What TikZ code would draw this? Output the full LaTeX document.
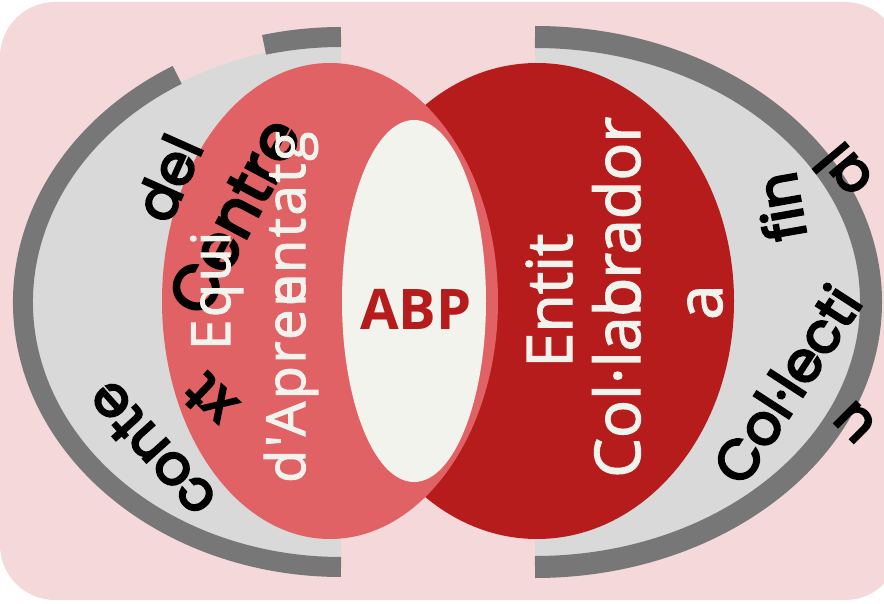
\documentclass[tikz,border=0pt]{standalone}
\usepackage{fontspec}
\newfontfamily\osans[Ligatures=TeXOff]{Open Sans}
\newfontfamily\osansb[Ligatures=TeXOff,FakeBold=2]{Open Sans}
\newfontfamily\osansbl[Ligatures=TeXOff,FakeBold=2,LetterSpace=5]{Open Sans}
\newfontfamily\pop[FakeBold=4]{Poppins}
\definecolor{bgpink}{HTML}{F5D9DA}
\definecolor{lgray}{HTML}{D9D9D9}
\definecolor{dgray}{HTML}{777777}
\definecolor{pinkel}{HTML}{E06265}
\definecolor{dred}{HTML}{B71C1C}
\definecolor{cream}{HTML}{F3F3EE}
\begin{document}
\begin{tikzpicture}[x=1pt,y=-1pt,
  blk/.style={text=black, font=\pop\fontsize{56}{60}\selectfont, inner sep=0pt, anchor=center},
  crm/.style={text=cream, inner sep=0pt, rotate=90, anchor=base west},
  crmL/.style={crm, font=\osansbl\fontsize{54}{60}\selectfont},
  crmR/.style={crm, font=\osansb\fontsize{63}{70}\selectfont}]
\useasboundingbox (0,0) rectangle (884,604);
\clip (0,0) rectangle (884,604);
% background
\fill[bgpink, rounded corners=55pt] (0,2) rectangle (900,600);
% left gray half ring
\begin{scope}
  \clip (0,0) rectangle (341,604);
  \fill[lgray] (341,302) ellipse[x radius=308pt, y radius=257pt];
\end{scope}
\draw[dgray, line width=20pt] (341,302) ++(90:318pt and 265pt)
  arc[start angle=90, end angle=104, x radius=318pt, y radius=265pt];
\draw[dgray, line width=20pt] (341,302) ++(121:318pt and 265pt)
  arc[start angle=121, end angle=270, x radius=318pt, y radius=265pt];
% right gray half ring
\begin{scope}
  \clip (535,0) rectangle (884,604);
  \fill[lgray] (535,302) ellipse[x radius=325pt, y radius=256pt];
\end{scope}
\draw[dgray, line width=22pt] (535,302) ++(-90:336pt and 265pt)
  arc[start angle=-90, end angle=90, x radius=336pt, y radius=265pt];
% ellipses
\fill[dred] (537,301) ellipse[x radius=197pt, y radius=238pt];
\fill[pinkel] (330,301) ellipse[x radius=168pt, y radius=238pt];
\fill[cream] (414,301) ellipse[x radius=72pt, y radius=181pt];
% black path texts
\node[blk, rotate=66] (del) at (168,178) {del};
\node[blk, rotate=62, font=\pop\fontsize{62}{70}\selectfont] (centre) at (234,216) {Centre};
\node[blk, rotate=132] (conte) at (151,450) {conte};
\node[blk, rotate=136] (xt) at (210,400) {xt};
\node[blk, rotate=57] (collecti) at (786,384) {Col·lecti};
\node[blk, rotate=135] (u) at (855,422) {u};
\node[blk, rotate=100] (fin) at (780,207) {fin};
\node[blk, rotate=130] (al) at (843,172) {al};
% cream texts
\node[crmL] (equi) at (230,350) {Equi};
\node[crmL] (daprenentatg) at (305,483) {d'Apren\kern-0.6em entatg};
\node[crmR] (entit) at (572,368) {Entit};
\node[crmR] (collab) at (640,478) {Col·lab\kern-0.62em orador};
\node[crmR] (a) at (722,320) {a};
% ABP
\node[text=dred, inner sep=0pt, anchor=base, font=\osans\bfseries\fontsize{56}{60}\selectfont] (abp) at (416,330) {ABP};
\end{tikzpicture}
\end{document}
